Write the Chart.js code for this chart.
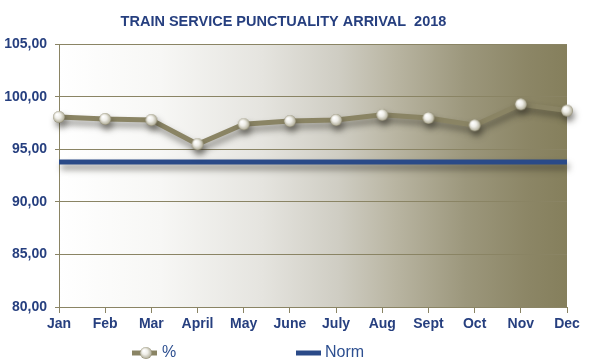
<!DOCTYPE html>
<html>
<head>
<meta charset="utf-8">
<script src="https://cdn.jsdelivr.net/npm/chart.js@4/dist/chart.umd.min.js"></script>
<style>
  html, body { margin: 0; padding: 0; background: #fff; }
  #wrap { width: 589px; height: 364px; }
</style>
</head>
<body>
<div id="wrap"><canvas id="chart-canvas" width="589" height="364"></canvas></div>
<script>
// months on the x axis
const months = ['Jan', 'Feb', 'Mar', 'April', 'May', 'June', 'July', 'Aug', 'Sept', 'Oct', 'Nov', 'Dec'];
// punctuality % per month
const punctuality = [98.1, 97.9, 97.8, 95.5, 97.4, 97.7, 97.8, 98.3, 98.0, 97.3, 99.3, 98.7];
// target line
const norm = [93.8, 93.8, 93.8, 93.8, 93.8, 93.8, 93.8, 93.8, 93.8, 93.8, 93.8, 93.8];
const yTicks = [80, 85, 90, 95, 100, 105];

const BLUE = '#263f7f';
const OLIVE = '#8a8464';
const NORM_BLUE = '#2a4a88';
const FONT = '"Liberation Sans", Arial, sans-serif';

// little shiny ball used for the points
function makeBall(r) {
  const c = document.createElement('canvas');
  c.width = c.height = r * 2 + 2;
  const g = c.getContext('2d');
  const cx = r + 1, cy = r + 1;
  const grad = g.createRadialGradient(cx - r * 0.35, cy - r * 0.4, 0.5, cx, cy, r);
  grad.addColorStop(0, '#ffffff');
  grad.addColorStop(0.45, '#eeede7');
  grad.addColorStop(0.85, '#bdbaa8');
  grad.addColorStop(1, '#8f8a70');
  g.beginPath();
  g.arc(cx, cy, r, 0, Math.PI * 2);
  g.fillStyle = grad;
  g.fill();
  return c;
}
const ball = makeBall(6);

// white -> olive backdrop behind the plot
const plotBackground = {
  id: 'plotBackground',
  beforeDraw(chart) {
    const { ctx, chartArea: a } = chart;
    const grad = ctx.createLinearGradient(a.left, 0, a.right, 0);
    grad.addColorStop(0, '#ffffff');
    grad.addColorStop(0.2, '#f7f7f5');
    grad.addColorStop(0.4, '#e5e4df');
    grad.addColorStop(0.55, '#cfcdc3');
    grad.addColorStop(0.66, '#b9b5a2');
    grad.addColorStop(0.8, '#9c977c');
    grad.addColorStop(0.92, '#8c8666');
    grad.addColorStop(1, '#857f5c');
    ctx.save();
    ctx.fillStyle = grad;
    ctx.fillRect(a.left, a.top, a.right - a.left, a.bottom - a.top);
    ctx.restore();
  }
};

// drop shadow under the lines
const lineShadow = {
  id: 'lineShadow',
  beforeDatasetDraw(chart) {
    const ctx = chart.ctx;
    ctx.save();
    ctx.shadowColor = 'rgba(40, 38, 30, 0.5)';
    ctx.shadowBlur = 6;
    ctx.shadowOffsetX = 2;
    ctx.shadowOffsetY = 5;
  },
  afterDatasetDraw(chart) {
    chart.ctx.restore();
  }
};

// legend under the axis: line+ball for %, bar for Norm
const bottomLegend = {
  id: 'bottomLegend',
  afterDraw(chart) {
    const ctx = chart.ctx;
    const y = 353;
    ctx.save();
    ctx.font = '16px ' + FONT;
    ctx.textBaseline = 'middle';
    ctx.fillStyle = '#2d4f90';

    ctx.strokeStyle = OLIVE;
    ctx.lineWidth = 5;
    ctx.beginPath();
    ctx.moveTo(132, y);
    ctx.lineTo(157, y);
    ctx.stroke();
    ctx.drawImage(ball, 146 - ball.width / 2, y - ball.height / 2);
    ctx.fillText(chart.data.datasets[0].label, 162, y);

    ctx.strokeStyle = NORM_BLUE;
    ctx.beginPath();
    ctx.moveTo(296, y);
    ctx.lineTo(321, y);
    ctx.stroke();
    ctx.fillText(chart.data.datasets[1].label, 325, y);
    ctx.restore();
  }
};

new Chart(
  document.getElementById('chart-canvas'),
  {
    type: 'line',
    plugins: [plotBackground, lineShadow, bottomLegend],
    data: {
      labels: months,
      datasets: [
        {
          label: '%',
          data: punctuality,
          borderColor: OLIVE,
          borderWidth: 5,
          pointStyle: ball,
          pointRadius: 6,
          tension: 0,
          clip: false,
          order: 0
        },
        {
          label: 'Norm',
          data: norm,
          borderColor: NORM_BLUE,
          borderWidth: 5,
          pointRadius: 0,
          clip: false,
          order: 1
        }
      ]
    },
    options: {
      responsive: false,
      animation: false,
      devicePixelRatio: 1,
      layout: {
        padding: { left: 0, right: 22, top: 0, bottom: 27 }
      },
      plugins: {
        legend: { display: false },
        tooltip: { enabled: false },
        title: {
          display: true,
          text: 'TRAIN SERVICE PUNCTUALITY ARRIVAL  2018',
          color: BLUE,
          font: { family: FONT, size: 14.5, weight: 'bold' },
          padding: { top: 13, bottom: 14 }
        }
      },
      scales: {
        x: {
          offset: false,
          afterFit: function(scale) { scale.height = 30; },
          border: { color: OLIVE, width: 1 },
          grid: { drawOnChartArea: false, drawTicks: true, tickLength: 6, color: OLIVE },
          ticks: {
            color: BLUE,
            font: { family: FONT, size: 14, weight: 'bold' },
            padding: 3,
            maxRotation: 0,
            autoSkip: false
          }
        },
        y: {
          min: yTicks[0],
          max: yTicks[yTicks.length - 1],
          afterFit: function(scale) { scale.width = 59; },
          afterBuildTicks: function(axis) {
            axis.ticks = yTicks.map(v => ({ value: v }));
          },
          border: { color: OLIVE, width: 1 },
          grid: { color: OLIVE, tickLength: 4, lineWidth: 1 },
          ticks: {
            color: BLUE,
            font: { family: FONT, size: 14, weight: 'bold' },
            padding: 8,
            callback: function(val) {
              return val.toFixed(2).replace('.', ',');
            }
          }
        }
      }
    }
  }
);
</script>
</body>
</html>
